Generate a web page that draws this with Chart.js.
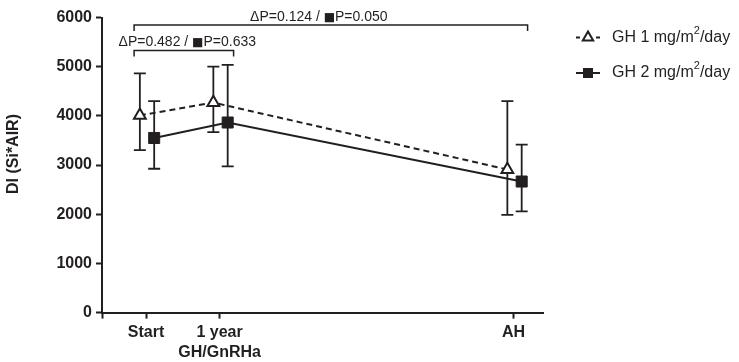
<!DOCTYPE html>
<html lang="en">
<head>
  <meta charset="UTF-8" />
  <title>DI (Si*AIR) by GH dose</title>
  <script src="https://cdn.jsdelivr.net/npm/chart.js"></script>
  <style>
    html, body { margin: 0; padding: 0; background: #fff; }
    #wrap { width: 739px; height: 362px; position: relative; }
  </style>
</head>
<body>
  <div id="wrap"><canvas id="diChart"></canvas></div>

  <script>
    // --- values ---
    const timepoints = [0, 1, 5];                       // years
    const timeLabels = ['Start', ['1 year', 'GH/GnRHa'], 'AH'];
    const yTicks     = [0, 1000, 2000, 3000, 4000, 5000, 6000];

    const seriesNames = ['GH 1 mg/m²/day', 'GH 2 mg/m²/day'];
    const gh1Mean  = [4010, 4270, 2910];
    const gh1Upper = [4865, 5000, 4300];
    const gh1Lower = [3305, 3670, 1985];
    const gh2Mean  = [3550, 3865, 2665];
    const gh2Upper = [4300, 5035, 3415];
    const gh2Lower = [2925, 2975, 2060];

    // comparisons shown as brackets above the plot
    const pTexts = ['ΔP=0.482 / ■P=0.633', 'ΔP=0.124 / ■P=0.050'];
    const pPairs = [[0, 1], [0, 2]];

    // --- look ---
    const FONT = "'Liberation Sans', Arial, Helvetica, sans-serif";
    const INK = '#231f20';
    const dodge = [-0.085, 0.11];   // GraphPad-style stagger of the two groups
    const bracketLevel = [5330, 5845];
    const pTextX = [0.56, 2.35];

    const toPoints = (mean, k) => timepoints.map((t, i) => ({ x: t + dodge[k], y: mean[i] }));

    // p-value text; the square symbol comes from DejaVu, which draws it cap-sized
    function drawPText(ctx, text, cx, base) {
      const parts = text.split('■');
      const fonts = ['14px ' + FONT, '12px "DejaVu Sans"'];
      const pieces = [];
      parts.forEach((p, i) => {
        if (i > 0) pieces.push(['■', fonts[1]]);
        pieces.push([p, fonts[0]]);
      });
      let w = 0;
      pieces.forEach(pc => { ctx.font = pc[1]; w += ctx.measureText(pc[0]).width; });
      let tx = cx - w / 2;
      ctx.textAlign = 'left';
      pieces.forEach(pc => {
        ctx.font = pc[1];
        ctx.fillText(pc[0], tx, base);
        tx += ctx.measureText(pc[0]).width;
      });
    }

    const extras = {
      id: 'extras',
      beforeDatasetsDraw(chart) {
        const { ctx, scales: { x, y } } = chart;
        ctx.save();
        ctx.strokeStyle = INK;
        ctx.lineWidth = 1.8;
        chart.data.datasets.forEach(ds => {
          ds.data.forEach((p, i) => {
            const px = x.getPixelForValue(p.x);
            const hi = y.getPixelForValue(ds.upper[i]);
            const lo = y.getPixelForValue(ds.lower[i]);
            ctx.beginPath();
            ctx.moveTo(px, hi); ctx.lineTo(px, lo);
            ctx.moveTo(px - 6, hi); ctx.lineTo(px + 6, hi);
            ctx.moveTo(px - 6, lo); ctx.lineTo(px + 6, lo);
            ctx.stroke();
          });
        });
        ctx.restore();
      },
      afterDraw(chart) {
        const { ctx, scales: { x, y } } = chart;
        ctx.save();
        ctx.strokeStyle = INK;
        ctx.fillStyle = INK;

        // brackets + p values
        ctx.lineWidth = 1.5;
        ctx.textBaseline = 'alphabetic';
        pPairs.forEach((pair, k) => {
          const xl = x.getPixelForValue(timepoints[pair[0]]) - 12;
          const xr = x.getPixelForValue(timepoints[pair[1]]) + 14;
          const yl = y.getPixelForValue(bracketLevel[k]);
          ctx.beginPath();
          ctx.moveTo(xl, yl + 6); ctx.lineTo(xl, yl); ctx.lineTo(xr, yl); ctx.lineTo(xr, yl + 6);
          ctx.stroke();
          drawPText(ctx, pTexts[k], x.getPixelForValue(pTextX[k]), yl - 4);
        });

        // y title
        ctx.save();
        ctx.translate(14, 154);
        ctx.rotate(-Math.PI / 2);
        ctx.font = 'bold 16px ' + FONT;
        ctx.textAlign = 'center';
        ctx.textBaseline = 'middle';
        ctx.fillText('DI (Si*AIR)', 0, 0);
        ctx.restore();

        // legend
        const rows = [37.5, 73];
        chart.data.datasets.forEach((ds, k) => {
          const cy = rows[k], cx = 588;
          ctx.lineWidth = 2;
          ctx.beginPath();
          if (k === 0) {
            ctx.moveTo(576, cy); ctx.lineTo(580, cy);
            ctx.moveTo(596, cy); ctx.lineTo(600, cy);
          } else {
            ctx.moveTo(576, cy); ctx.lineTo(600, cy);
          }
          ctx.stroke();
          ctx.beginPath();
          if (ds.pointStyle === 'triangle') {
            const r = 6;
            ctx.moveTo(cx, cy - r);
            ctx.lineTo(cx + r * 0.866, cy + r / 2);
            ctx.lineTo(cx - r * 0.866, cy + r / 2);
            ctx.closePath();
            ctx.fillStyle = '#fff';
            ctx.fill();
            ctx.stroke();
          } else {
            ctx.fillStyle = INK;
            ctx.fillRect(cx - 5, cy - 5, 10, 10);
          }
          // label with superscript 2
          ctx.fillStyle = INK;
          ctx.textAlign = 'left';
          ctx.textBaseline = 'middle';
          const parts = ds.label.split('²');
          let tx = 612;
          ctx.font = '16px ' + FONT;
          ctx.fillText(parts[0], tx, cy);
          tx += ctx.measureText(parts[0]).width;
          ctx.font = '11px ' + FONT;
          ctx.fillText('2', tx, cy - 7);
          tx += ctx.measureText('2').width;
          ctx.font = '16px ' + FONT;
          ctx.fillText(parts[1], tx, cy);
        });
        ctx.restore();
      }
    };

    new Chart(document.getElementById('diChart'), {
      type: 'line',
      data: {
        datasets: [
          {
            label: seriesNames[0],
            data: toPoints(gh1Mean, 0),
            upper: gh1Upper, lower: gh1Lower,
            borderColor: INK, borderWidth: 2, borderDash: [6, 4],
            pointStyle: 'triangle', pointRadius: 6.8,
            pointBackgroundColor: '#fff', pointBorderColor: INK, pointBorderWidth: 2,
            fill: false, tension: 0
          },
          {
            label: seriesNames[1],
            data: toPoints(gh2Mean, 1),
            upper: gh2Upper, lower: gh2Lower,
            borderColor: INK, borderWidth: 2,
            pointStyle: 'rect', pointRadius: 7.8,
            pointBackgroundColor: INK, pointBorderColor: INK, pointBorderWidth: 1,
            fill: false, tension: 0
          }
        ]
      },
      options: {
        responsive: true,
        maintainAspectRatio: false,
        animation: false,
        layout: { padding: { top: 17.5, right: 196, bottom: 0, left: 0 } },
        scales: {
          x: {
            type: 'linear',
            min: -0.6, max: 5.4,
            afterBuildTicks: s => { s.ticks = [-0.6, ...timepoints].map(v => ({ value: v })); },
            afterFit: s => { s.height = 49.4; },
            ticks: {
              autoSkip: false, maxRotation: 0, color: INK, padding: 4,
              font: { family: FONT, size: 16, weight: 'bold', lineHeight: 1.25 },
              callback: v => { const i = timepoints.indexOf(v); return i < 0 ? '' : timeLabels[i]; }
            },
            grid: { drawOnChartArea: false, drawTicks: true, tickLength: 6, tickWidth: 2, tickColor: INK },
            border: { display: true, color: INK, width: 2 }
          },
          y: {
            min: 0, max: 6000,
            afterBuildTicks: s => { s.ticks = yTicks.map(v => ({ value: v })); },
            afterFit: s => { s.width = 102; },
            ticks: {
              color: INK, padding: 4,
              font: { family: FONT, size: 16, weight: 'bold' },
              callback: v => String(v)
            },
            grid: { drawOnChartArea: false, drawTicks: true, tickLength: 6, tickWidth: 2, tickColor: INK },
            border: { display: true, color: INK, width: 2 }
          }
        },
        plugins: {
          legend: { display: false },
          tooltip: { enabled: false }
        }
      },
      plugins: [extras]
    });
  </script>
</body>
</html>
